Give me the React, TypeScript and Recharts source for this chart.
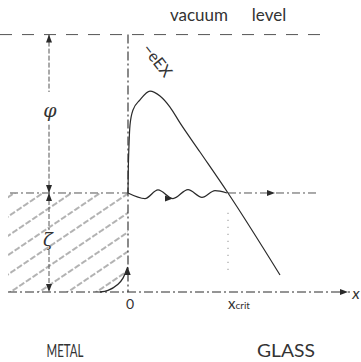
import React from 'react';
import { ComposedChart, Line, Area, Scatter, XAxis, YAxis, ReferenceDot } from 'recharts';

// Energy levels (eV-like units) and positions (Å-like units)
const FERMI = 5;
const VACUUM = 13;
const X_CRIT = 10;

// Potential barrier seen by an electron leaving the metal into the glass
const barrierX = [0, 0.03, 0.1, 0.2, 0.5, 1.2, 2.2, 3.2, 4.2, 5.2, 7.2, 10, 15.2];
const barrierE = [5.0, 6.16, 7.42, 8.43, 9.19, 9.7, 10.15, 9.9, 9.34, 8.54, 7.07, 5.0, 0.86];

// Tunnelling electron (wavy path at the Fermi level)
const waveX = [0, 1.7, 3.0, 4.5, 6.0, 7.4, 8.7, 9.9];
const waveE = [5.0, 4.72, 5.16, 4.72, 5.17, 4.78, 5.12, 5.0];

// Rounded corner of the filled band
const cornerX = [-2.8, -2.0, -1.1, -0.5, -0.03];
const cornerE = [0, 0.08, 0.35, 0.7, 1.26];

const metalFermiX = [-11.8, 0];
const glassFermiX = [X_CRIT, 19];
const axisX = [-12, 22.2];
const vacuumX = [-12.8, 20];
const interfaceE = [VACUUM, 0];
const critE = [4.0, 1.1];
const arrowX = -7.9;
const phiGap = [10.1, 8.45];
const zetaGap = [3.13, 2.12];

const arrowsUp = [
  { x: arrowX, E: VACUUM },
  { x: arrowX, E: FERMI },
  { x: -0.03, E: 1.26 },
];
const arrowsDown = [
  { x: arrowX, E: FERMI },
  { x: arrowX, E: 0 },
];
const arrowsRight = [
  { x: 22.0, E: 0 },
  { x: 14.7, E: FERMI },
  { x: 4.5, E: 4.72 },
];

const pts = (xs: number[], es: number[]) => xs.map((x, i) => ({ x, E: es[i] }));
const hLine = (xs: number[], e: number) => xs.map((x) => ({ x, E: e }));
const vLine = (x: number, es: number[]) => es.map((E) => ({ x, E }));

const hatchData = [
  { x: -12, range: [0, FERMI] },
  ...cornerX.map((x, i) => ({ x, range: [cornerE[i], FERMI] })),
  { x: 0, range: [cornerE[cornerE.length - 1], FERMI] },
];

const INK = '#2a2a2a';
const SOFT = '#555';
const LIGHT = 'Lato, "Liberation Sans", sans-serif';

const arrowShape = (dir: 'up' | 'down' | 'right') => (p: any) => {
  const { cx, cy } = p;
  let d = '';
  if (dir === 'up') d = `M${cx},${cy} L${cx - 3},${cy + 8} L${cx + 3},${cy + 8} Z`;
  if (dir === 'down') d = `M${cx},${cy} L${cx - 3},${cy - 8} L${cx + 3},${cy - 8} Z`;
  if (dir === 'right') d = `M${cx},${cy} L${cx - 8},${cy - 3} L${cx - 8},${cy + 3} Z`;
  return <path d={d} fill={INK} stroke="none" />;
};

const label = (
  key: string,
  x: number,
  y: number,
  content: React.ReactNode,
  style: any = {},
  extra: any = {}
) => {
  const { rotate, ...rest } = extra;
  return (
    <ReferenceDot
      key={key}
      x={x}
      y={y}
      r={0}
      ifOverflow="visible"
      shape={(p: any) => (
        <text
          x={p.cx}
          y={p.cy}
          textAnchor="middle"
          dominantBaseline="central"
          fill="#333"
          fontFamily={LIGHT}
          {...rest}
          transform={rotate ? `rotate(${rotate} ${p.cx} ${p.cy})` : undefined}
          style={style}
        >
          {content}
        </text>
      )}
    />
  );
};

export default function App() {
  const lineProps = {
    dot: false,
    activeDot: false,
    isAnimationActive: false,
    dataKey: 'E',
    type: 'linear' as const,
    legendType: 'none' as const,
  };
  return (
    <div style={{ position: 'absolute', left: 0, top: 0, background: '#fff' }}>
      <ComposedChart width={361} height={362} margin={{ top: 0, right: 0, bottom: 0, left: 0 }}>
        <defs>
          <pattern id="hatch" width="16" height="16" patternUnits="userSpaceOnUse" patternTransform="rotate(-34)">
            <line x1="0" y1="8" x2="16" y2="8" stroke="#555" strokeWidth="0.9" strokeDasharray="6 2" />
          </pattern>
        </defs>
        <XAxis type="number" dataKey="x" domain={[-12.8, 23.3]} hide allowDataOverflow />
        <YAxis type="number" dataKey="E" domain={[-3.535, 14.747]} hide allowDataOverflow />

        <Area
          data={hatchData}
          dataKey="range"
          type="monotone"
          fill="url(#hatch)"
          fillOpacity={1}
          stroke="none"
          dot={false}
          activeDot={false}
          isAnimationActive={false}
          legendType="none"
        />

        {/* vacuum level */}
        <Line {...lineProps} data={hLine(vacuumX, VACUUM)} stroke={SOFT} strokeWidth={1} strokeDasharray="12 10" />
        {/* metal / glass interface */}
        <Line {...lineProps} data={vLine(0, interfaceE)} stroke={INK} strokeWidth={1.1} strokeDasharray="9 3 2 3" />
        {/* Fermi level in metal */}
        <Line {...lineProps} data={hLine(metalFermiX, FERMI)} stroke={SOFT} strokeWidth={1} strokeDasharray="8 3 2 3" />
        {/* Fermi level beyond x_crit */}
        <Line {...lineProps} data={hLine(glassFermiX, FERMI)} stroke={SOFT} strokeWidth={1} strokeDasharray="8 3 2 3" />
        {/* x axis */}
        <Line {...lineProps} data={hLine(axisX, 0)} stroke={INK} strokeWidth={1} strokeDasharray="9 3 2 3" />
        {/* x_crit marker */}
        <Line {...lineProps} data={vLine(X_CRIT, critE)} stroke="#777" strokeWidth={1} strokeDasharray="1 6" />
        {/* phi arrow */}
        <Line {...lineProps} data={vLine(arrowX, [VACUUM, phiGap[0]])} stroke={SOFT} strokeWidth={1} strokeDasharray="5 2" />
        <Line {...lineProps} data={vLine(arrowX, [phiGap[1], FERMI])} stroke={SOFT} strokeWidth={1} strokeDasharray="5 2" />
        {/* zeta arrow */}
        <Line {...lineProps} data={vLine(arrowX, [FERMI, zetaGap[0]])} stroke={SOFT} strokeWidth={1} strokeDasharray="5 2" />
        <Line {...lineProps} data={vLine(arrowX, [zetaGap[1], 0])} stroke={SOFT} strokeWidth={1} strokeDasharray="5 2" />
        {/* corner */}
        <Line {...lineProps} type="monotone" data={pts(cornerX, cornerE)} stroke={INK} strokeWidth={1.3} />
        {/* barrier */}
        <Line {...lineProps} type="monotone" data={pts(barrierX, barrierE)} stroke={INK} strokeWidth={1.2} />
        {/* wave */}
        <Line {...lineProps} type="monotone" data={pts(waveX, waveE)} stroke={INK} strokeWidth={1.3} />

        <Scatter data={arrowsUp} dataKey="E" shape={arrowShape('up')} activeShape={arrowShape('up')} isAnimationActive={false} legendType="none" />
        <Scatter data={arrowsDown} dataKey="E" shape={arrowShape('down')} activeShape={arrowShape('down')} isAnimationActive={false} legendType="none" />
        <Scatter data={arrowsRight} dataKey="E" shape={arrowShape('right')} activeShape={arrowShape('right')} isAnimationActive={false} legendType="none" />

        {label('vac1', 7.1, 13.99, 'vacuum', { fontSize: 17 })}
        {label('vac2', 14.1, 13.99, 'level', { fontSize: 17 })}
        {label('phi', -7.8, 9.19, 'φ', { fontSize: 19, fontStyle: 'italic', fontFamily: '"DejaVu Serif", serif' })}
        {label('zeta', -8.0, 2.63, 'ζ', { fontSize: 18, fontStyle: 'italic', fontFamily: '"DejaVu Serif", serif' })}
        {label('eex', 3.0, 11.72, '−eEX', { fontSize: 16 }, { rotate: 52 })}
        {label('zero', 0.2, -0.556, '0', { fontSize: 14 })}
        {label(
          'xcrit',
          11.1,
          -0.556,
          [
            <tspan key="a" fontSize={15}>x</tspan>,
            <tspan key="b" fontSize={10} dy={2}>crit</tspan>,
          ],
          {}
        )}
        {label('xlab', 22.8, 0, 'x', { fontSize: 16, fontStyle: 'italic' })}
        {label('metal', -6.3, -2.93, 'METAL', { fontSize: 18 }, { textLength: 37, lengthAdjust: 'spacingAndGlyphs' })}
        {label('glass', 15.8, -2.93, 'GLASS', { fontSize: 18 }, { textLength: 58, lengthAdjust: 'spacingAndGlyphs' })}
      </ComposedChart>
    </div>
  );
}
